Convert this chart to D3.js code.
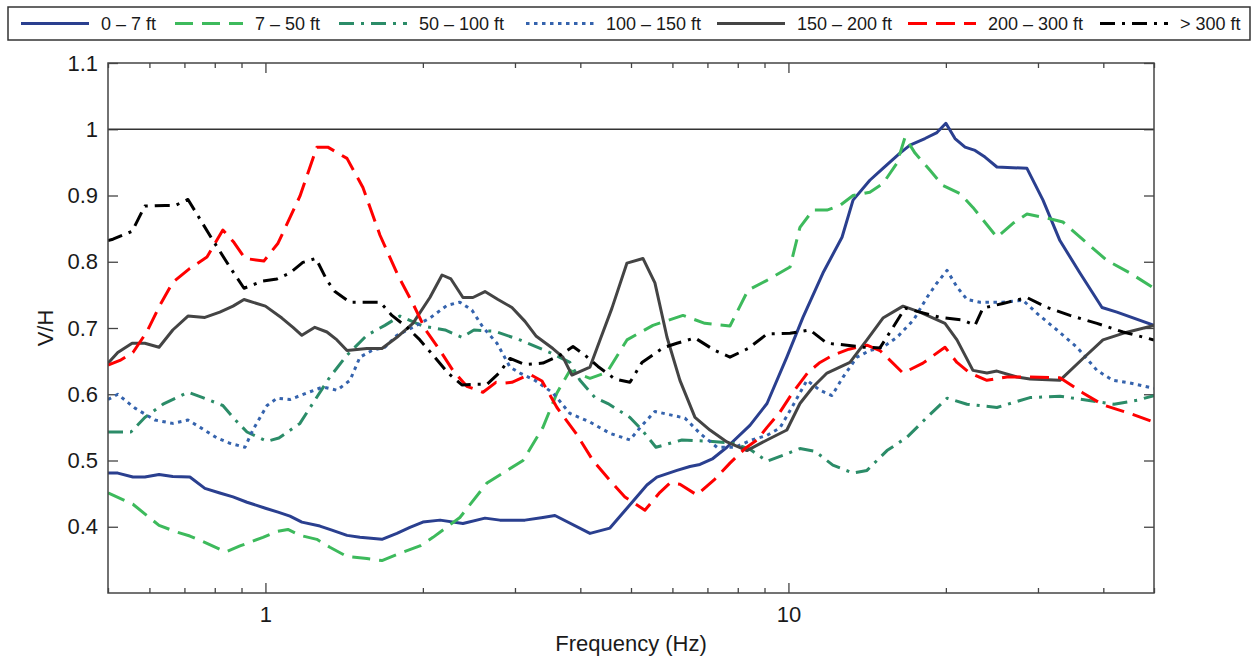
<!DOCTYPE html>
<html><head><meta charset="utf-8">
<script src="https://cdn.jsdelivr.net/npm/d3@7"></script>
<style>
body{margin:0;background:#fff;}
svg{display:block;font-family:"Liberation Sans",Arial,Helvetica,sans-serif;}
</style>
</head><body>
<svg id="c" width="1255" height="659"></svg>
<script>
// ---------------- DATA ----------------
const seriesNames = ["0 \u2013 7 ft","7 \u2013 50 ft","50 \u2013 100 ft","100 \u2013 150 ft","150 \u2013 200 ft","200 \u2013 300 ft","> 300 ft"];
const xTicksMajor = [1,10];
const xTickLabels = ["1","10"];
const yTicks = [0.4,0.5,0.6,0.7,0.8,0.9,1.0,1.1];
const yTickLabels = ["0.4","0.5","0.6","0.7","0.8","0.9","1","1.1"];
const refLineValue = 1.0;

const f_0_7 = [0.5,0.522,0.558,0.588,0.626,0.665,0.717,0.766,0.818,0.867,0.922,1.0,1.057,1.114,1.174,1.271,1.340,1.432,1.516,1.670,1.784,1.889,2.0,2.157,2.386,2.629,2.808,3.135,3.393,3.577,4.174,4.557,4.912,5.363,5.604,6.122,6.481,6.773,7.171,7.627,8.44,9.10,9.93,10.66,11.64,12.66,13.29,14.31,15.16,16.34,17.08,18.24,19.23,20.0,20.82,21.76,22.74,23.76,25.04,28.58,30.67,33.04,36.09,39.77,42.47,50];
const v_0_7 = [0.481,0.481,0.475,0.475,0.479,0.476,0.475,0.458,0.451,0.445,0.437,0.428,0.422,0.416,0.407,0.401,0.395,0.387,0.384,0.381,0.390,0.399,0.407,0.410,0.405,0.413,0.410,0.410,0.414,0.417,0.390,0.398,0.428,0.463,0.475,0.485,0.491,0.494,0.503,0.520,0.553,0.586,0.656,0.716,0.783,0.837,0.893,0.923,0.941,0.964,0.976,0.986,0.995,1.009,0.986,0.973,0.968,0.958,0.943,0.941,0.893,0.832,0.783,0.731,0.724,0.704];

const f_7_50 = [0.5,0.558,0.626,0.677,0.717,0.773,0.840,0.894,0.989,1.052,1.104,1.164,1.254,1.328,1.432,1.563,1.670,1.808,1.974,2.091,2.354,2.652,3.108,3.393,3.609,3.821,4.174,4.498,4.912,5.507,6.286,6.922,7.73,8.37,9.10,10.07,10.52,11.14,11.85,12.55,13.29,14.31,15.16,16.13,16.71,17.46,18.65,19.74,21.28,22.53,25.04,26.87,28.58,31.21,33.48,37.23,40.64,44.98,50];
const v_7_50 = [0.451,0.434,0.402,0.392,0.386,0.375,0.362,0.371,0.384,0.393,0.396,0.387,0.381,0.369,0.355,0.352,0.349,0.360,0.371,0.384,0.414,0.466,0.500,0.550,0.602,0.636,0.624,0.633,0.682,0.704,0.719,0.707,0.703,0.757,0.772,0.792,0.852,0.878,0.878,0.885,0.900,0.905,0.918,0.949,0.988,0.964,0.938,0.915,0.903,0.882,0.837,0.858,0.872,0.866,0.860,0.828,0.802,0.783,0.760];

const f_50_100 = [0.5,0.553,0.588,0.637,0.711,0.759,0.829,0.874,0.922,1.007,1.061,1.164,1.243,1.328,1.432,1.563,1.692,1.808,2.0,2.205,2.375,2.504,2.747,3.066,3.499,3.821,3.994,4.266,4.517,4.977,5.247,5.580,6.258,7.078,7.834,8.44,9.10,9.85,10.52,11.24,12.16,13.29,14.13,15.43,16.85,18.40,20.10,21.95,25.04,28.96,33.04,41.92,46.48,50];
const v_50_100 = [0.543,0.543,0.565,0.585,0.603,0.595,0.583,0.562,0.543,0.529,0.534,0.556,0.591,0.626,0.659,0.689,0.704,0.718,0.703,0.697,0.686,0.697,0.695,0.682,0.663,0.648,0.621,0.595,0.586,0.565,0.546,0.520,0.531,0.529,0.526,0.517,0.499,0.509,0.518,0.514,0.493,0.481,0.485,0.515,0.535,0.565,0.594,0.585,0.580,0.595,0.597,0.585,0.591,0.598];

const f_100_150 = [0.5,0.522,0.563,0.615,0.665,0.711,0.750,0.808,0.855,0.914,0.946,1.007,1.052,1.114,1.200,1.288,1.370,1.451,1.516,1.598,1.692,1.784,1.914,2.063,2.223,2.354,2.482,2.606,2.771,2.935,3.066,3.276,3.545,3.821,4.174,4.557,4.977,5.247,5.555,6.34,6.773,7.30,7.90,8.51,9.10,9.63,10.20,10.85,11.49,12.11,12.72,13.52,14.31,15.16,16.13,17.34,18.40,19.23,20.10,21.00,21.95,23.24,25.71,28.08,29.87,32.62,35.62,38.90,41.73,44.98,50];
const v_100_150 = [0.592,0.600,0.579,0.561,0.556,0.561,0.550,0.534,0.526,0.520,0.546,0.583,0.594,0.592,0.602,0.611,0.606,0.621,0.656,0.666,0.671,0.689,0.701,0.715,0.734,0.739,0.727,0.701,0.677,0.641,0.632,0.621,0.602,0.571,0.558,0.541,0.531,0.553,0.574,0.564,0.541,0.520,0.520,0.531,0.538,0.549,0.583,0.621,0.606,0.598,0.626,0.656,0.666,0.671,0.686,0.712,0.746,0.768,0.787,0.762,0.743,0.739,0.739,0.742,0.722,0.697,0.671,0.636,0.621,0.617,0.609];

const f_150_200 = [0.5,0.522,0.556,0.588,0.626,0.665,0.711,0.766,0.818,0.867,0.910,1.0,1.075,1.129,1.174,1.243,1.311,1.370,1.432,1.563,1.670,1.784,1.914,2.063,2.176,2.263,2.386,2.493,2.629,2.784,2.960,3.135,3.290,3.545,3.705,3.855,4.174,4.362,4.598,4.912,5.270,5.555,5.859,6.202,6.627,7.078,7.627,8.33,9.10,9.93,10.52,11.14,11.85,13.11,14.13,15.16,16.56,17.84,19.92,21.00,22.53,23.96,25.04,27.35,28.96,33.04,36.57,39.94,43.62,50];
const v_150_200 = [0.647,0.663,0.677,0.677,0.671,0.697,0.718,0.716,0.724,0.733,0.743,0.733,0.715,0.701,0.689,0.701,0.694,0.682,0.666,0.669,0.669,0.686,0.707,0.746,0.780,0.774,0.746,0.746,0.755,0.743,0.731,0.710,0.688,0.669,0.656,0.629,0.641,0.682,0.730,0.798,0.805,0.768,0.686,0.621,0.565,0.546,0.528,0.515,0.531,0.546,0.586,0.611,0.632,0.648,0.682,0.715,0.733,0.724,0.707,0.682,0.636,0.632,0.635,0.626,0.623,0.621,0.654,0.682,0.692,0.704];

const f_200_300 = [0.5,0.527,0.558,0.593,0.628,0.665,0.717,0.773,0.829,0.871,0.914,0.993,1.057,1.164,1.254,1.316,1.432,1.536,1.656,1.791,1.922,2.025,2.157,2.283,2.427,2.606,2.759,2.87,2.96,3.204,3.379,3.609,3.925,4.229,4.557,4.868,5.316,5.68,5.935,6.202,6.683,7.236,7.73,8.26,8.71,9.10,9.63,10.20,10.90,11.49,12.16,13.05,14.13,14.96,16.56,18.08,19.92,21.00,22.23,23.96,26.17,28.96,33.04,36.57,39.94,44.98,50];
const v_200_300 = [0.644,0.651,0.663,0.694,0.734,0.769,0.790,0.807,0.848,0.829,0.805,0.801,0.828,0.899,0.973,0.973,0.956,0.912,0.840,0.780,0.734,0.697,0.666,0.636,0.612,0.603,0.618,0.617,0.618,0.630,0.620,0.580,0.541,0.500,0.470,0.445,0.425,0.452,0.466,0.464,0.448,0.472,0.496,0.518,0.531,0.550,0.573,0.603,0.633,0.648,0.659,0.668,0.674,0.666,0.632,0.647,0.671,0.648,0.632,0.621,0.626,0.626,0.625,0.602,0.584,0.571,0.558];

const f_300 = [0.5,0.511,0.556,0.588,0.643,0.672,0.711,0.750,0.794,0.855,0.910,0.989,1.052,1.114,1.179,1.249,1.311,1.358,1.451,1.563,1.656,1.745,1.865,1.974,2.091,2.234,2.375,2.515,2.652,2.796,2.935,3.135,3.393,3.657,3.873,4.083,4.323,4.659,4.977,5.247,5.754,6.12,6.627,7.236,7.73,8.37,9.10,10.07,10.99,11.85,12.94,13.88,14.96,15.85,16.71,17.84,19.49,21.57,22.74,23.54,25.71,28.58,31.21,34.53,38.90,43.62,50];
const v_300 = [0.832,0.834,0.846,0.884,0.885,0.885,0.894,0.864,0.832,0.792,0.760,0.771,0.774,0.783,0.799,0.805,0.772,0.755,0.739,0.739,0.739,0.719,0.701,0.682,0.659,0.632,0.614,0.615,0.615,0.632,0.654,0.645,0.647,0.659,0.672,0.659,0.642,0.623,0.618,0.648,0.670,0.677,0.685,0.666,0.656,0.669,0.691,0.692,0.697,0.677,0.674,0.671,0.670,0.701,0.730,0.724,0.716,0.712,0.704,0.730,0.737,0.746,0.731,0.719,0.707,0.694,0.682];

// ---------------- STYLE ----------------
const styles = [
  {color:"#2a3f8f", dash:null},
  {color:"#3dba5c", dash:"18,9"},
  {color:"#2b8c68", dash:"15,7,3,7"},
  {color:"#3563ad", dash:"3.5,4.5"},
  {color:"#444444", dash:null},
  {color:"#ff0000", dash:"19,9"},
  {color:"#000000", dash:"15,7,3,7"}
];
const seriesF = [f_0_7,f_7_50,f_50_100,f_100_150,f_150_200,f_200_300,f_300];
const seriesV = [v_0_7,v_7_50,v_50_100,v_100_150,v_150_200,v_200_300,v_300];

// ---------------- CHART ----------------
const svg = d3.select("#c");
const m = {l:108, r:1154, t:63, b:593};
const x = d3.scaleLog().domain([0.5,50]).range([m.l,m.r]);
const y = d3.scaleLinear().domain([0.3,1.1]).range([m.b,m.t]);
const axisColor = "#444";
const fs = 22;

svg.append("defs").append("clipPath").attr("id","plotclip")
  .append("rect").attr("x",m.l).attr("y",m.t).attr("width",m.r-m.l).attr("height",m.b-m.t);

const minorTicks = [];
[0.1,1,10].forEach(dec => { for (let k=1;k<10;k++){ const v=k*dec; if (v>=0.5 && v<=50 && !xTicksMajor.includes(v)) minorTicks.push(v);} });

function styleAxis(g){
  g.select(".domain").remove();
  g.selectAll(".tick line").attr("stroke",axisColor).attr("stroke-width",1.3);
  g.selectAll(".tick text").attr("fill","#1a1a1a").style("font-size",fs+"px").style("font-family",'"Liberation Sans",Arial,sans-serif');
}

// bottom
svg.append("g").attr("transform",`translate(0,${m.b})`)
  .call(d3.axisBottom(x).tickValues(xTicksMajor).tickSize(-10).tickPadding(13).tickFormat((d,i)=>xTickLabels[i]))
  .call(styleAxis);
svg.append("g").attr("transform",`translate(0,${m.b})`)
  .call(d3.axisBottom(x).tickValues(minorTicks).tickSize(-5).tickFormat(""))
  .call(styleAxis);
// top
svg.append("g").attr("transform",`translate(0,${m.t})`)
  .call(d3.axisTop(x).tickValues(xTicksMajor).tickSize(-10).tickFormat(""))
  .call(styleAxis);
svg.append("g").attr("transform",`translate(0,${m.t})`)
  .call(d3.axisTop(x).tickValues(minorTicks).tickSize(-5).tickFormat(""))
  .call(styleAxis);
// left
svg.append("g").attr("transform",`translate(${m.l},0)`)
  .call(d3.axisLeft(y).tickValues(yTicks).tickSize(-10).tickPadding(10).tickFormat((d,i)=>yTickLabels[i]))
  .call(styleAxis);
// right
svg.append("g").attr("transform",`translate(${m.r},0)`)
  .call(d3.axisRight(y).tickValues(yTicks).tickSize(-10).tickFormat(""))
  .call(styleAxis);

// reference line
svg.append("line")
  .attr("x1",x(0.5)).attr("x2",x(50)).attr("y1",y(refLineValue)).attr("y2",y(refLineValue))
  .attr("stroke","#333").attr("stroke-width",1.4);

// series
const line = d3.line().x(d=>x(d[0])).y(d=>y(d[1]));
const gLines = svg.append("g").attr("clip-path","url(#plotclip)");
seriesF.forEach((fa,i)=>{
  const pts = d3.zip(fa, seriesV[i]);
  const p = gLines.append("path").datum(pts)
    .attr("d",line).attr("fill","none")
    .attr("stroke",styles[i].color).attr("stroke-width",3)
    .attr("stroke-linejoin","round");
  if (styles[i].dash) p.attr("stroke-dasharray",styles[i].dash).attr("stroke-linecap","butt");
});

// frame
svg.append("rect").attr("x",m.l).attr("y",m.t).attr("width",m.r-m.l).attr("height",m.b-m.t)
  .attr("fill","none").attr("stroke",axisColor).attr("stroke-width",1.5);

// axis titles
svg.append("text").attr("x",(m.l+m.r)/2).attr("y",651).attr("text-anchor","middle")
  .style("font-size",fs+"px").attr("fill","#1a1a1a").text("Frequency (Hz)");
svg.append("text").attr("transform",`translate(53,${(m.t+m.b)/2}) rotate(-90)`).attr("text-anchor","middle")
  .style("font-size",fs+"px").attr("fill","#1a1a1a").text("V/H");

// legend
const leg = svg.append("g");
leg.append("rect").attr("x",8).attr("y",7).attr("width",1242).attr("height",33)
  .attr("fill","#fff").attr("stroke","#333").attr("stroke-width",1.5);
const legX = [21,175,339,526,717,908,1100];
const legY = 23.5;
seriesNames.forEach((name,i)=>{
  const lx = legX[i];
  const l = leg.append("line").attr("x1",lx).attr("x2",lx+68).attr("y1",legY).attr("y2",legY)
    .attr("stroke",styles[i].color).attr("stroke-width",3);
  if (styles[i].dash) l.attr("stroke-dasharray",styles[i].dash);
  leg.append("text").attr("x",lx+80).attr("y",legY+6.5)
    .style("font-size","18px").attr("fill","#1a1a1a").text(name);
});
</script>
</body></html>
